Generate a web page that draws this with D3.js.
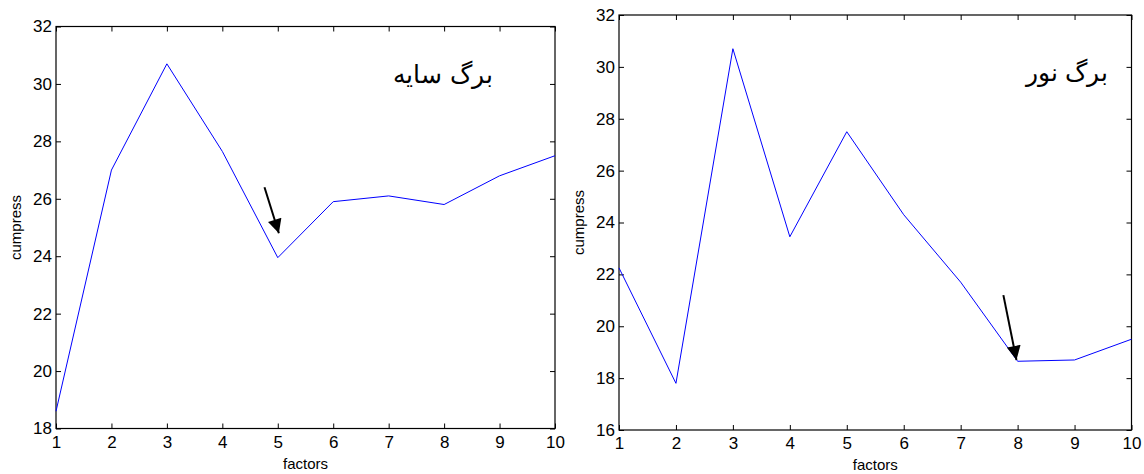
<!DOCTYPE html>
<meta charset="utf-8">
<title>cumpress vs factors</title>
<script src="https://d3js.org/d3.v7.min.js"></script>
<style>
  body { margin: 0; background: #fff; }
  text { font-family: "Liberation Sans", Arial, sans-serif; fill: #000; }
  .fa { font-family: "DejaVu Sans", serif; font-size: 25px; font-weight: 200; }
</style>
<body>
<div id="chart"></div>
<script>
// data
var factors = [1, 2, 3, 4, 5, 6, 7, 8, 9, 10];
var shadeCumpress = [18.6, 27.0, 30.7, 27.65, 23.95, 25.9, 26.1, 25.8, 26.8, 27.5];
var lightCumpress = [22.25, 17.8, 30.7, 23.45, 27.5, 24.3, 21.7, 18.65, 18.7, 19.5];
var shadeTicks = [18, 20, 22, 24, 26, 28, 30, 32];
var lightTicks = [16, 18, 20, 22, 24, 26, 28, 30, 32];
var shadeTitle = "برگ سایه";
var lightTitle = "برگ نور";
// arrows in data units: [x0, y0, x1, y1]
var shadeArrow = [4.76, 26.4, 5.02, 24.8];
var lightArrow = [7.75, 21.2, 7.98, 18.7];

var svg = d3.select("#chart").append("svg")
    .attr("width", 1144)
    .attr("height", 474);

svg.append("defs").append("marker")
    .attr("id", "head")
    .attr("viewBox", "0 0 10 10")
    .attr("refX", 10).attr("refY", 5)
    .attr("markerWidth", 18).attr("markerHeight", 14)
    .attr("markerUnits", "userSpaceOnUse")
    .attr("orient", "auto")
  .append("path")
    .attr("d", "M0,0L10,5L0,10z")
    .attr("fill", "#000");

function panel(box, values, ticks, title, titlePos, arrow) {
  var x = d3.scaleLinear().domain([1, 10]).range([box.left, box.right]);
  var y = d3.scaleLinear().domain([ticks[0], ticks[ticks.length - 1]]).range([box.bottom, box.top]);
  var g = svg.append("g");

  // frame
  g.append("rect")
    .attr("x", box.left).attr("y", box.top)
    .attr("width", box.right - box.left).attr("height", box.bottom - box.top)
    .attr("fill", "none").attr("stroke", "#000").attr("stroke-width", 1.2);

  // ticks (inside, mirrored like matlab)
  var xb = g.append("g").attr("transform", "translate(0," + box.bottom + ")")
    .call(d3.axisBottom(x).tickValues(factors).tickSizeInner(-5).tickSizeOuter(0).tickPadding(7));
  var xt = g.append("g").attr("transform", "translate(0," + box.top + ")")
    .call(d3.axisTop(x).tickValues(factors).tickSizeInner(-5).tickSizeOuter(0).tickFormat(""));
  var yl = g.append("g").attr("transform", "translate(" + box.left + ",0)")
    .call(d3.axisLeft(y).tickValues(ticks).tickSizeInner(-5).tickSizeOuter(0).tickPadding(4));
  var yr = g.append("g").attr("transform", "translate(" + box.right + ",0)")
    .call(d3.axisRight(y).tickValues(ticks).tickSizeInner(-5).tickSizeOuter(0).tickFormat(""));
  [xb, xt, yl, yr].forEach(function(a) {
    a.select(".domain").remove();
    a.selectAll("line").attr("stroke", "#000");
    a.selectAll("text").style("font-size", "17px").attr("fill", "#000")
      .style("font-family", "Liberation Sans, Arial, sans-serif");
  });

  // line
  g.append("path")
    .datum(factors.map(function(f, i) { return [f, values[i]]; }))
    .attr("fill", "none")
    .attr("stroke", "#0000ff")
    .attr("stroke-width", 1)
    .attr("d", d3.line().x(function(d) { return x(d[0]); }).y(function(d) { return y(d[1]); }));

  // arrow
  g.append("line")
    .attr("x1", x(arrow[0])).attr("y1", y(arrow[1]))
    .attr("x2", x(arrow[2])).attr("y2", y(arrow[3]))
    .attr("stroke", "#000").attr("stroke-width", 2)
    .attr("marker-end", "url(#head)");

  // labels
  g.append("text")
    .attr("x", (box.left + box.right) / 2).attr("y", box.bottom + 40)
    .attr("text-anchor", "middle").style("font-size", "15px")
    .text("factors");
  g.append("text")
    .attr("transform", "translate(" + (box.left - 35) + "," + ((box.top + box.bottom) / 2) + ") rotate(-90)")
    .attr("text-anchor", "middle").style("font-size", "15px")
    .text("cumpress");

  g.append("text")
    .attr("class", "fa")
    .attr("x", titlePos[0]).attr("y", titlePos[1])
    .attr("text-anchor", "middle")
    .attr("direction", "rtl")
    .text(title);
}

panel({left: 56, right: 555, top: 26.5, bottom: 428.5}, shadeCumpress, shadeTicks, shadeTitle, [443, 83], shadeArrow);
panel({left: 619, right: 1131.5, top: 15, bottom: 430}, lightCumpress, lightTicks, lightTitle, [1067, 81], lightArrow);
</script>
</body>
